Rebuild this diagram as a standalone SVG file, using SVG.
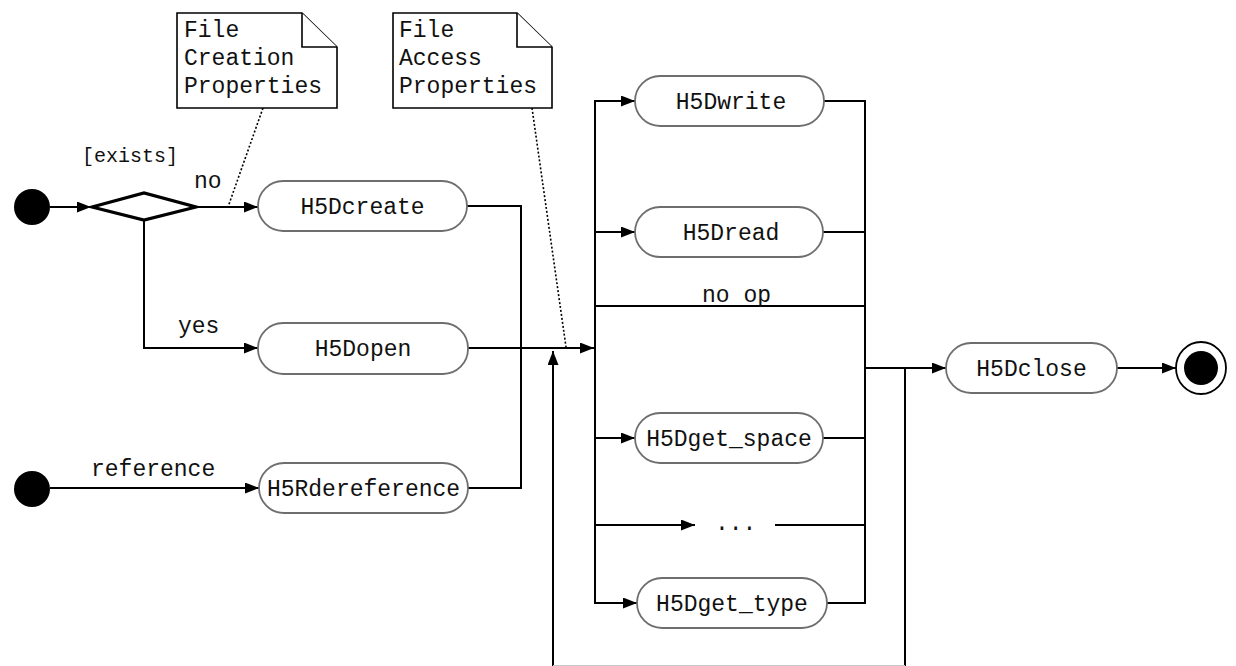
<svg xmlns="http://www.w3.org/2000/svg" width="1236" height="666" viewBox="0 0 1236 666">
<style>
.bg{fill:#ffffff}
.node{fill:#ffffff;stroke:#6e6e6e;stroke-width:1.8}
.lbl{font-family:"Liberation Mono","Courier New",monospace;font-size:23px;fill:#111}
.small{font-size:20px}
.edge{fill:none;stroke:#000;stroke-width:2}
.dot{fill:none;stroke:#000;stroke-width:1.6;stroke-dasharray:2 2}
.note{fill:#ffffff;stroke:#000;stroke-width:1.6}
</style>
<defs>
<marker id="arr" viewBox="0 0 14 11" refX="14" refY="5.5" markerWidth="14" markerHeight="11" markerUnits="userSpaceOnUse" orient="auto">
<path d="M0,0 L14,5.5 L0,11 Z" fill="#000"/>
</marker>
</defs>
<rect class="bg" x="0" y="0" width="1236" height="666"/>

<g id="connectors">
<line class="edge" x1="50" y1="207" x2="91" y2="207" marker-end="url(#arr)"/>
<line class="edge" x1="197" y1="207" x2="258" y2="207" marker-end="url(#arr)"/>
<polyline class="edge" points="144,220 144,348 258,348" marker-end="url(#arr)"/>
<line class="edge" x1="50" y1="488" x2="259" y2="488" marker-end="url(#arr)"/>
<polyline class="edge" points="467,206 521,206 521,488 468,488"/>
<line class="edge" x1="468" y1="348" x2="594" y2="348" marker-end="url(#arr)"/>
<line class="edge" x1="905" y1="368" x2="905" y2="668"/>
<line class="edge" x1="553" y1="668" x2="553" y2="351" marker-end="url(#arr)"/>
<line x1="553" y1="665.5" x2="905" y2="665.5" stroke="#c8c8c8" stroke-width="1"/>
<line class="edge" x1="595" y1="100" x2="595" y2="604"/>
<line class="edge" x1="595" y1="101" x2="635" y2="101" marker-end="url(#arr)"/>
<line class="edge" x1="595" y1="232" x2="635" y2="232" marker-end="url(#arr)"/>
<line class="edge" x1="595" y1="306" x2="865" y2="306"/>
<line class="edge" x1="595" y1="438" x2="635" y2="438" marker-end="url(#arr)"/>
<line class="edge" x1="595" y1="525" x2="695" y2="525" marker-end="url(#arr)"/>
<line class="edge" x1="775" y1="525" x2="865" y2="525"/>
<line class="edge" x1="595" y1="603" x2="637" y2="603" marker-end="url(#arr)"/>
<line class="edge" x1="824" y1="101" x2="865" y2="101"/>
<line class="edge" x1="823" y1="232" x2="865" y2="232"/>
<line class="edge" x1="823" y1="438" x2="865" y2="438"/>
<line class="edge" x1="827" y1="603" x2="865" y2="603"/>
<line class="edge" x1="865" y1="100" x2="865" y2="604"/>
<line class="edge" x1="865" y1="368" x2="946" y2="368" marker-end="url(#arr)"/>
<line class="edge" x1="1117" y1="368" x2="1176" y2="368" marker-end="url(#arr)"/>
<line class="dot" x1="263" y1="108" x2="228" y2="207"/>
<line class="dot" x1="532" y1="108" x2="566" y2="347"/>
<text class="lbl small" x="82" y="162">[exists]</text>
<text class="lbl" x="194" y="188">no</text>
<text class="lbl" x="178" y="333">yes</text>
<text class="lbl" x="91" y="476">reference</text>
<text class="lbl" x="702" y="302">no op</text>
<text class="lbl" x="715" y="530">...</text>
</g>

<g id="start1"><circle cx="32" cy="207" r="18" fill="#000"/></g>
<g id="decision"><polygon points="92,207 144,193 196,207 144,220" fill="#fff" stroke="#000" stroke-width="3.2" stroke-linejoin="miter"/></g>
<g id="start2"><circle cx="32" cy="489" r="18" fill="#000"/></g>

<g id="note1">
<path class="note" d="M177,13 L302,13 L337,47 L337,108 L177,108 Z"/>
<path class="note" d="M302,13 L302,47 L337,47" fill="none"/>
<text class="lbl" x="184" y="37">File</text>
<text class="lbl" x="184" y="65">Creation</text>
<text class="lbl" x="184" y="93">Properties</text>
</g>
<g id="note2">
<path class="note" d="M393,13 L517,13 L552,47 L552,108 L393,108 Z"/>
<path class="note" d="M517,13 L517,47 L552,47" fill="none"/>
<text class="lbl" x="399" y="37">File</text>
<text class="lbl" x="399" y="65">Access</text>
<text class="lbl" x="399" y="93">Properties</text>
</g>

<g id="H5Dcreate"><rect class="node" x="258" y="181" width="209" height="50" rx="25" ry="25"/><text class="lbl" x="362.5" y="214" text-anchor="middle">H5Dcreate</text></g>
<g id="H5Dopen"><rect class="node" x="258" y="323" width="210" height="51" rx="25" ry="25"/><text class="lbl" x="363" y="356" text-anchor="middle">H5Dopen</text></g>
<g id="H5Rdereference"><rect class="node" x="259" y="463" width="209" height="50" rx="25" ry="25"/><text class="lbl" x="363.5" y="496" text-anchor="middle">H5Rdereference</text></g>
<g id="H5Dwrite"><rect class="node" x="635" y="76" width="189" height="50" rx="25" ry="25"/><text class="lbl" x="731" y="109" text-anchor="middle">H5Dwrite</text></g>
<g id="H5Dread"><rect class="node" x="635" y="207" width="188" height="50" rx="25" ry="25"/><text class="lbl" x="731" y="240" text-anchor="middle">H5Dread</text></g>
<g id="H5Dget_space"><rect class="node" x="635" y="413" width="188" height="50" rx="25" ry="25"/><text class="lbl" x="729" y="446" text-anchor="middle">H5Dget_space</text></g>
<g id="H5Dget_type"><rect class="node" x="637" y="578" width="190" height="50" rx="25" ry="25"/><text class="lbl" x="732" y="611" text-anchor="middle">H5Dget_type</text></g>
<g id="H5Dclose"><rect class="node" x="946" y="343" width="171" height="50" rx="25" ry="25"/><text class="lbl" x="1031.5" y="376" text-anchor="middle">H5Dclose</text></g>
<g id="end"><ellipse cx="1201" cy="368" rx="25" ry="26" fill="#fff" stroke="#000" stroke-width="1.8"/><circle cx="1201" cy="368" r="17" fill="#000"/></g>
</svg>
